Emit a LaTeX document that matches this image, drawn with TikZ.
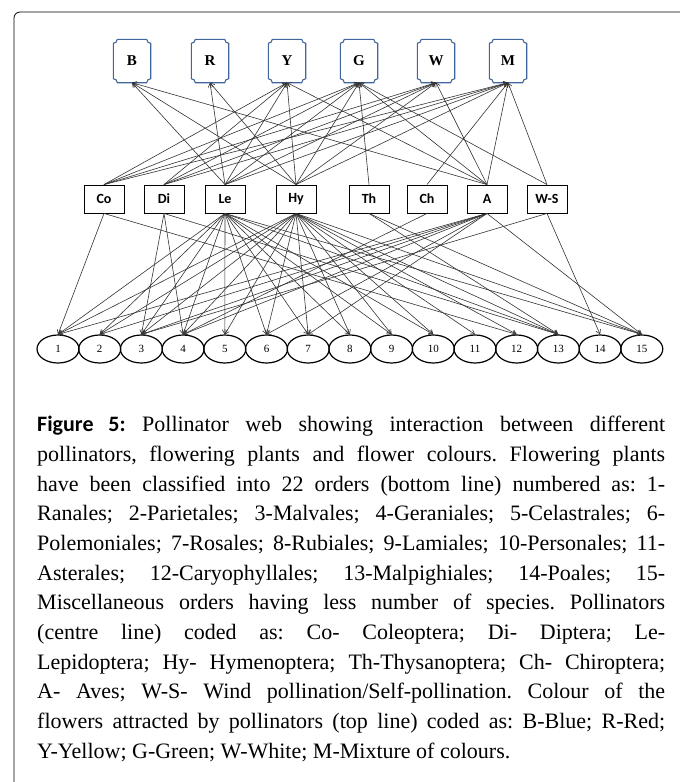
\documentclass[tikz,border=0pt]{standalone}
\usepackage{fontspec}
\setmainfont{Liberation Serif}
\newfontfamily\boxfont{Carlito}
\usetikzlibrary{shapes.geometric,arrows.meta}
\definecolor{plaqueblue}{HTML}{41669B}
\tikzset{
  colourbox/.style={minimum width=37pt,minimum height=43pt,inner sep=0pt,font=\bfseries\fontsize{15}{15}\selectfont},
  plaque/.style={draw=plaqueblue,line width=1.1pt},
  pollbox/.style={draw,line width=0.9pt,minimum width=40pt,minimum height=28pt,inner sep=0pt,font=\boxfont\bfseries\fontsize{14}{14}\selectfont},
  plant/.style={draw,ellipse,line width=1.2pt,minimum width=42pt,minimum height=28pt,inner sep=0pt,font=\fontsize{11}{11}\selectfont},
  link/.style={draw=black!80,line width=0.6pt,-{Straight Barb[length=4pt,width=5pt]}},
}

\begin{document}
\begin{tikzpicture}[x=1pt,y=-1pt]
    \useasboundingbox (0,0) rectangle (680,782);
    % Frame
    \draw[line width=0.8pt,rounded corners=6pt] (14,782) -- (14,12) -- (680,12);

    % Flower colours (top line)
    \foreach \c/\x in {B/132,R/210,Y/287,G/359,W/436,M/508}{
        \node[colourbox] (\c) at (\x,61) {\c};
        \draw[plaque] ([yshift=-4pt]\c.north west) arc[start angle=270,end angle=360,radius=4pt]
            -- ([xshift=-4pt]\c.north east) arc[start angle=180,end angle=270,radius=4pt]
            -- ([yshift=4pt]\c.south east) arc[start angle=90,end angle=180,radius=4pt]
            -- ([xshift=4pt]\c.south west) arc[start angle=0,end angle=90,radius=4pt] -- cycle;
    }

    % Pollinators (centre line)
    \foreach \p/\x/\t in {Co/104/Co,Di/164/Di,Le/225/Le,Hy/296/Hy,Th/369/Th,Ch/427/Ch,A/487/A,WS/547/W-S}
        \node[pollbox] (\p) at (\x,199) {\t};

    % Plant orders (bottom line)
    \foreach \i in {1,...,15}
        \node[plant] (p\i) at ({58+(\i-1)*41.7},349) {\i};

    % Pollinator -> colour
    \foreach \p/\cs in {Co/{Y,G,W,M},Di/{Y,G,W,M},Le/{B,R,Y,G,W,M},Hy/{B,R,Y,G,W,M},Th/{G},Ch/{M},A/{B,Y,G,W,M},WS/{G,M}}
        \foreach \c in \cs
            \draw[link] (\p.north) -- (\c.south);

    % Pollinator -> plant order
    \foreach \p/\ps in {Co/{1,12},Di/{3,4,13},Le/{1,2,3,4,5,6,7,8,9,10,13,15},Hy/{1,2,3,4,5,6,7,8,9,10,11,12,13,15},Th/{13,15},Ch/{4},A/{1,2,3,4,6,7,15},WS/{3,14}}
        \foreach \i in \ps
            \draw[link] (\p.south) -- (p\i.north);

    % Caption
    \node[anchor=north west,inner sep=0pt,text width=628pt,align=justify,
          font=\fontsize{22}{29.7}\selectfont] (caption) at (37,416)
        {\hyphenpenalty=10000\tolerance=10000\emergencystretch=20pt\frenchspacing
        {\boxfont\bfseries Figure 5:} Pollinator web showing interaction between different \linebreak
        pollinators, flowering plants and flower colours. Flowering plants \linebreak
        have been classified into 22 orders (bottom line) numbered as: 1-\linebreak
        Ranales; 2-Parietales; 3-Malvales; 4-Geraniales; 5-Celastrales; 6-\linebreak
        Polemoniales; 7-Rosales; 8-Rubiales; 9-Lamiales; 10-Personales; 11-\linebreak
        Asterales; 12-Caryophyllales; 13-Malpighiales; 14-Poales; 15-\linebreak
        Miscellaneous orders having less number of species. Pollinators \linebreak
        (centre line) coded as: Co- Coleoptera; Di- Diptera; Le-\linebreak
        Lepidoptera; Hy- Hymenoptera; Th-Thysanoptera; Ch- Chiroptera; \linebreak
        A- Aves; W-S- Wind pollination/Self-pollination. Colour of the \linebreak
        flowers attracted by pollinators (top line) coded as: B-Blue; R-Red; \linebreak
        Y-Yellow; G-Green; W-White; M-Mixture of colours.\par};
\end{tikzpicture}
\end{document}
